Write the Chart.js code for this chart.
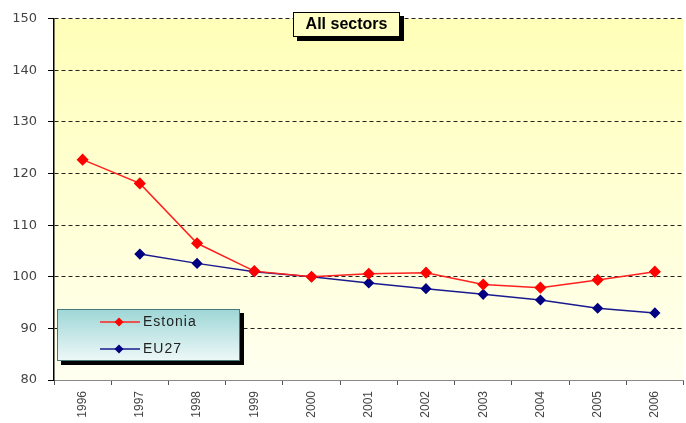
<!DOCTYPE html>
<html>
<head>
<meta charset="utf-8">
<script src="https://cdn.jsdelivr.net/npm/chart.js@4/dist/chart.umd.min.js"></script>
<style>
  html, body { margin: 0; padding: 0; background: #fff; overflow: hidden; }
  #wrap { position: relative; width: 690px; height: 423px; }
</style>
</head>
<body>
<div id="wrap"><canvas id="chart"></canvas></div>
<script>
// data
const years = ['1996', '1997', '1998', '1999', '2000', '2001', '2002', '2003', '2004', '2005', '2006'];
const estonia = [122.7, 118.1, 106.5, 101.1, 100.0, 100.6, 100.8, 98.5, 97.9, 99.4, 101.0];
const eu27 = [null, 104.4, 102.6, 101.0, 100.0, 98.8, 97.7, 96.6, 95.5, 93.9, 93.0];
const yTicks = [80, 90, 100, 110, 120, 130, 140, 150];
const chartTitle = 'All sectors';

// yellow gradient behind the plot
const plotBg = {
    id: 'plotBg',
    beforeDraw(chart) {
        const { ctx, chartArea: a } = chart;
        const g = ctx.createLinearGradient(0, a.top, 0, a.bottom);
        g.addColorStop(0, '#ffffb8');
        g.addColorStop(1, '#fffff0');
        ctx.save();
        ctx.fillStyle = g;
        ctx.fillRect(a.left, a.top, a.right - a.left, a.bottom - a.top);
        ctx.restore();
    }
};

// title box and legend box, drawn on top like the original
const boxes = {
    id: 'boxes',
    afterDraw(chart) {
        const ctx = chart.ctx;
        ctx.save();

        // title
        ctx.fillStyle = '#000';
        ctx.fillRect(297, 16, 107, 25);
        ctx.fillStyle = '#ffffc4';
        ctx.fillRect(293, 12, 107, 25);
        ctx.strokeStyle = '#000';
        ctx.lineWidth = 1;
        ctx.strokeRect(293.5, 12.5, 106, 24);
        ctx.fillStyle = '#000';
        ctx.font = 'bold 16px "Liberation Sans", Arial, sans-serif';
        ctx.textAlign = 'center';
        ctx.textBaseline = 'middle';
        ctx.fillText(chartTitle, 346.5, 25);

        // legend
        const lx = 57, ly = 309, lw = 183, lh = 52;
        ctx.fillStyle = '#000';
        ctx.fillRect(lx + 4, ly + 4, lw, lh);
        const g = ctx.createLinearGradient(0, ly, 0, ly + lh);
        g.addColorStop(0, '#9ed6d6');
        g.addColorStop(1, '#eef8f8');
        ctx.fillStyle = g;
        ctx.fillRect(lx, ly, lw, lh);
        ctx.strokeStyle = '#4a7878';
        ctx.strokeRect(lx + 0.5, ly + 0.5, lw - 1, lh - 1);

        ctx.font = '14px "Liberation Sans", Arial, sans-serif';
        ctx.letterSpacing = '1px';
        ctx.textAlign = 'left';
        chart.data.datasets.forEach((ds, i) => {
            const y = 322 + i * 27;
            ctx.strokeStyle = ds.borderColor;
            ctx.lineWidth = 1.5;
            ctx.beginPath();
            ctx.moveTo(100, y);
            ctx.lineTo(140, y);
            ctx.stroke();
            ctx.fillStyle = ds.pointBackgroundColor;
            ctx.beginPath();
            ctx.moveTo(119, y - 4.5);
            ctx.lineTo(123.5, y);
            ctx.lineTo(119, y + 4.5);
            ctx.lineTo(114.5, y);
            ctx.closePath();
            ctx.fill();
            ctx.fillStyle = '#222';
            ctx.fillText(ds.label, 143, y);
        });
        ctx.restore();
    }
};

new Chart(document.getElementById('chart'), {
    type: 'line',
    data: {
        labels: years,
        datasets: [{
            label: 'Estonia',
            data: estonia,
            borderColor: '#ff2020',
            backgroundColor: '#ff0000',
            pointBackgroundColor: '#ff0000',
            pointBorderColor: '#ff0000',
            borderWidth: 1.5,
            pointStyle: 'rectRot',
            pointRadius: 5,
            tension: 0
        }, {
            label: 'EU27',
            data: eu27,
            borderColor: '#1a1a90',
            backgroundColor: '#000080',
            pointBackgroundColor: '#000080',
            pointBorderColor: '#000080',
            borderWidth: 1.5,
            pointStyle: 'rectRot',
            pointRadius: 4.5,
            tension: 0
        }]
    },
    options: {
        responsive: true,
        maintainAspectRatio: false,
        animation: false,
        layout: { padding: { top: 16, left: 0, right: 0, bottom: 0 } },
        plugins: {
            legend: { display: false },
            tooltip: { enabled: false }
        },
        scales: {
            x: {
                offset: true,
                grid: {
                    drawOnChartArea: false,
                    offset: true,
                    tickLength: 5,
                    color: '#555'
                },
                border: { color: '#888', width: 1 },
                ticks: {
                    color: '#444',
                    font: { family: '"Liberation Sans", Arial, sans-serif', size: 12 },
                    maxRotation: 90,
                    minRotation: 90,
                    padding: 6
                },
                afterFit(scale) { scale.height = 43; }
            },
            y: {
                min: 80,
                max: 150,
                afterBuildTicks(scale) { scale.ticks = yTicks.map(v => ({ value: v })); },
                grid: {
                    color: ctx => ctx.tick && ctx.tick.value === 80 ? 'rgba(0,0,0,0)' : '#222',
                    tickColor: '#000',
                    tickLength: 6,
                    tickBorderDash: [],
                    lineWidth: 1
                },
                border: { color: '#000', width: 1.5, dash: [4, 3] },
                ticks: {
                    color: '#444',
                    font: { family: '"DejaVu Sans", Arial, sans-serif', size: 13 },
                    padding: 11
                },
                afterFit(scale) { scale.width = 54; }
            }
        }
    },
    plugins: [plotBg, boxes]
});
</script>
</body>
</html>
